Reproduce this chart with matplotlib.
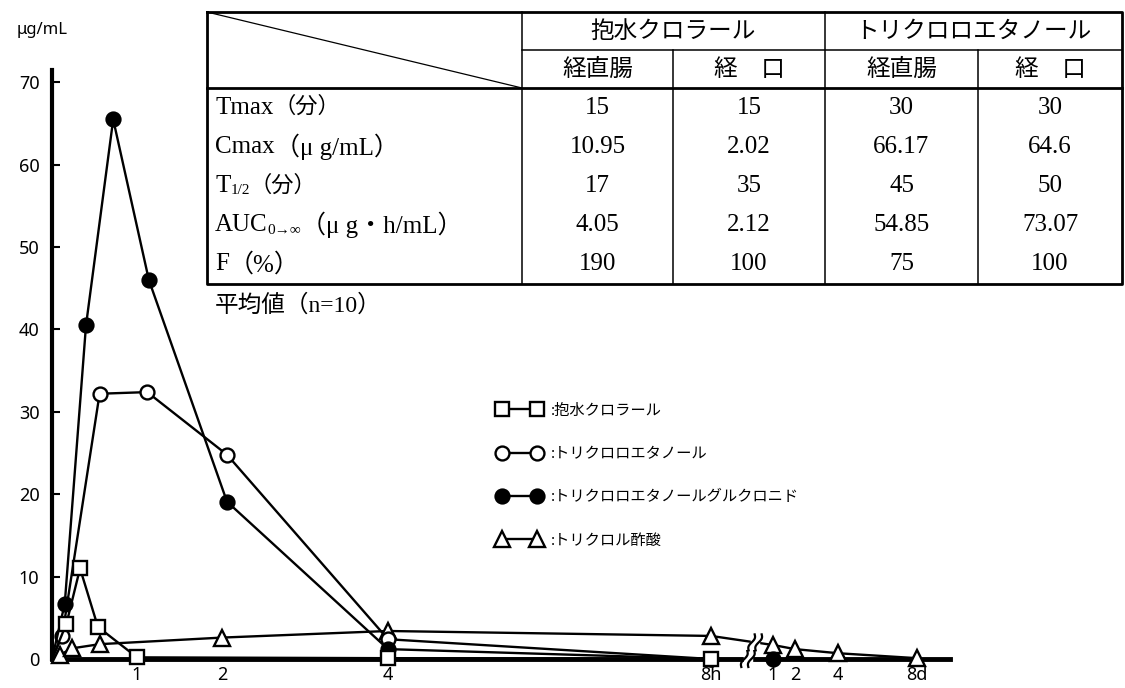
import matplotlib
matplotlib.use('Agg')
import matplotlib.pyplot as plt
import numpy as np
from matplotlib.lines import Line2D
from matplotlib.patches import Rectangle
from matplotlib.transforms import IdentityTransform

plt.rcParams['font.family'] = ['Noto Sans', 'Noto Sans CJK JP']
SERIF = ['Liberation Serif', 'Noto Sans CJK JP']

# time in hours (days -> 24h each), concentration in ug/mL
t_chloral = [0, 0.17, 0.33, 0.54, 1.0, 4.0, 8.0]
c_chloral = [0, 4.3, 11.0, 3.9, 0.2, 0.1, 0.0]

t_tce = [0, 0.12, 0.56, 1.12, 2.06, 4.0, 8.0]
c_tce = [0, 2.8, 32.2, 32.4, 24.8, 2.4, 0.0]

t_tceg = [0, 0.15, 0.4, 0.72, 1.14, 2.06, 4.0, 8.0, 24]
c_tceg = [0, 6.7, 40.5, 65.5, 46.0, 19.1, 1.2, 0.0, 0.0]

t_tca = [0, 0.09, 0.24, 0.56, 2.0, 4.0, 8.0, 24, 48, 96, 192]
c_tca = [0, 0.5, 1.3, 1.8, 2.6, 3.4, 2.8, 1.7, 1.2, 0.7, 0.1]

labels = [':抱水クロラール', ':トリクロロエタノール',
          ':トリクロロエタノールグルクロニド', ':トリクロル酢酸']

xticks_h = [1, 2, 4, 8, 24, 48, 96, 192]
xtick_labels = ['1', '2', '4', '8h', '1', '2', '4', '8d']

# table
col_groups = ['抱水クロラール', 'トリクロロエタノール']
routes = ['経直腸', '経　口', '経直腸', '経　口']
row_parts = [
    [('Tmax', 18, 0), ('（分）', 16, 0)],
    [('Cmax', 18, 0), ('（μ g/mL）', 18, 0)],
    [('T', 18, 0), ('1/2', 11, 5), ('（分）', 16, 0)],
    [('AUC', 18, 0), ('0→∞', 11, 5), ('（μ g・h/mL）', 18, 0)],
    [('F', 18, 0), ('（%）', 18, 0)],
]
values = [
    ['15', '15', '30', '30'],
    ['10.95', '2.02', '66.17', '64.6'],
    ['17', '35', '45', '50'],
    ['4.05', '2.12', '54.85', '73.07'],
    ['190', '100', '75', '100'],
]
note = '平均値（n=10）'

# broken time axis: hours part then days part, mapped piecewise
anchor_h = [0, 1, 2, 4, 8, 24, 48, 96, 192, 230]
anchor_pos = [52, 137, 222, 388, 711, 773, 795, 838, 917, 950]


def fwd(h):
    return np.interp(h, anchor_h, anchor_pos)


def inv(p):
    return np.interp(p, anchor_pos, anchor_h)


fig = plt.figure(figsize=(11.25, 6.88), dpi=100)
ax = fig.add_axes([52 / 1125, 29 / 688, 898 / 1125, 589 / 688])
ax.set_xscale('function', functions=(fwd, inv))
ax.set_xlim(0, 230)
ax.set_ylim(0, 71.5)

series = [
    (t_tca, c_tca, '^', 'w', 11),
    (t_tce, c_tce, 'o', 'w', 10),
    (t_tceg, c_tceg, 'o', 'k', 10),
    (t_chloral, c_chloral, 's', 'w', 10),
]
for i, (t, c, m, fc, ms) in enumerate(series):
    ax.plot(t, c, color='k', lw=1.7, marker=m, ms=ms, mfc=fc, mec='k',
            mew=1.7, markevery=slice(1, None), clip_on=False, zorder=3 + i)

for s in ['top', 'right']:
    ax.spines[s].set_visible(False)
ax.spines['left'].set_linewidth(3)
ax.spines['bottom'].set_linewidth(3.5)

ax.set_yticks(range(0, 80, 10))
ax.tick_params(axis='y', direction='in', length=6, width=1.5, labelsize=13, pad=9)
ax.set_xticks(xticks_h)
ax.set_xticklabels(xtick_labels)
ax.tick_params(axis='x', length=0, labelsize=13, pad=5)
ax.xaxis.set_minor_locator(matplotlib.ticker.NullLocator())
fig.text(42 / 1125, 1 - 30 / 688, 'μg/mL', ha='center', va='center', fontsize=12)

# legend
handles = [
    Line2D([], [], color='k', lw=1.7, marker='s', ms=10, mfc='w', mec='k', mew=1.7),
    Line2D([], [], color='k', lw=1.7, marker='o', ms=10, mfc='w', mec='k', mew=1.7),
    Line2D([], [], color='k', lw=1.7, marker='o', ms=10, mfc='k', mec='k', mew=1.7),
    Line2D([], [], color='k', lw=1.7, marker='^', ms=11, mfc='w', mec='k', mew=1.7),
]
ax.legend(handles, labels, numpoints=2, frameon=False, loc='upper left',
          bbox_to_anchor=(490 / 1125, 1 - 396 / 688), bbox_transform=fig.transFigure,
          handlelength=2.9, labelspacing=1.85, handletextpad=0.6, borderpad=0,
          fontsize=11)


# break marks on the time axis
def draw_break(xh, yv):
    X, Y = ax.transData.transform((xh, yv))
    tr = IdentityTransform()
    ax.add_artist(Rectangle((X - 4, Y - 6), 8, 12, transform=tr, color='w',
                            zorder=10, clip_on=False))
    s = np.linspace(-1, 1, 30)
    for dx in (-3.5, 3.5):
        xs = X + dx + 3 * s + 1.6 * np.sin(np.pi * s)
        ys = Y + 8 * s
        ax.add_artist(Line2D(xs, ys, transform=tr, color='k', lw=1.6,
                             zorder=11, clip_on=False))


fig.canvas.draw()
draw_break(17.5, 0)
xb = 19.4
draw_break(xb, np.interp(xb, t_tca, c_tca))

# table on a pixel overlay
lay = fig.add_axes([0, 0, 1, 1])
lay.set_xlim(0, 1125)
lay.set_ylim(688, 0)
lay.axis('off')

L, R, T, B = 207, 1122, 12, 284
cols = [522, 673, 825, 978]
h1, h2 = 50, 88
thick, thin = 2.0, 1.1
lay.plot([L, R, R, L, L], [T, T, B, B, T], color='k', lw=thick)
lay.plot([L, R], [h2, h2], color='k', lw=thick)
lay.plot([cols[0], R], [h1, h1], color='k', lw=thin)
lay.plot([cols[0], cols[0]], [T, B], color='k', lw=thin)
lay.plot([cols[2], cols[2]], [T, B], color='k', lw=thin)
lay.plot([cols[1], cols[1]], [h1, B], color='k', lw=thin)
lay.plot([cols[3], cols[3]], [h1, B], color='k', lw=thin)
lay.plot([L, cols[0]], [T, h2], color='k', lw=0.9)

edges = cols + [R]
centers = [(edges[i] + edges[i + 1]) / 2 for i in range(4)]
lay.text((cols[0] + cols[2]) / 2, (T + h1) / 2 + 1, col_groups[0], ha='center',
         va='center', fontsize=17, family=SERIF)
lay.text((cols[2] + R) / 2, (T + h1) / 2 + 1, col_groups[1], ha='center',
         va='center', fontsize=17, family=SERIF)
for cx, r in zip(centers, routes):
    lay.text(cx, (h1 + h2) / 2 + 1, r, ha='center', va='center', fontsize=17,
             family=SERIF)

renderer = fig.canvas.get_renderer()
row_h = (B - h2) / 5
for i, (parts, vals) in enumerate(zip(row_parts, values)):
    y = h2 + row_h * (i + 0.5)
    x = L + 8
    for s, size, dy in parts:
        t = lay.text(x, y + dy, s, ha='left', va='center', fontsize=size,
                     family=SERIF)
        x += t.get_window_extent(renderer).width
    for cx, v in zip(centers, vals):
        lay.text(cx, y, v, ha='center', va='center', fontsize=18, family=SERIF)

lay.text(L + 8, B + 22, note, ha='left', va='center', fontsize=17, family=SERIF)

fig.savefig('out.png', dpi=100, facecolor='white')
